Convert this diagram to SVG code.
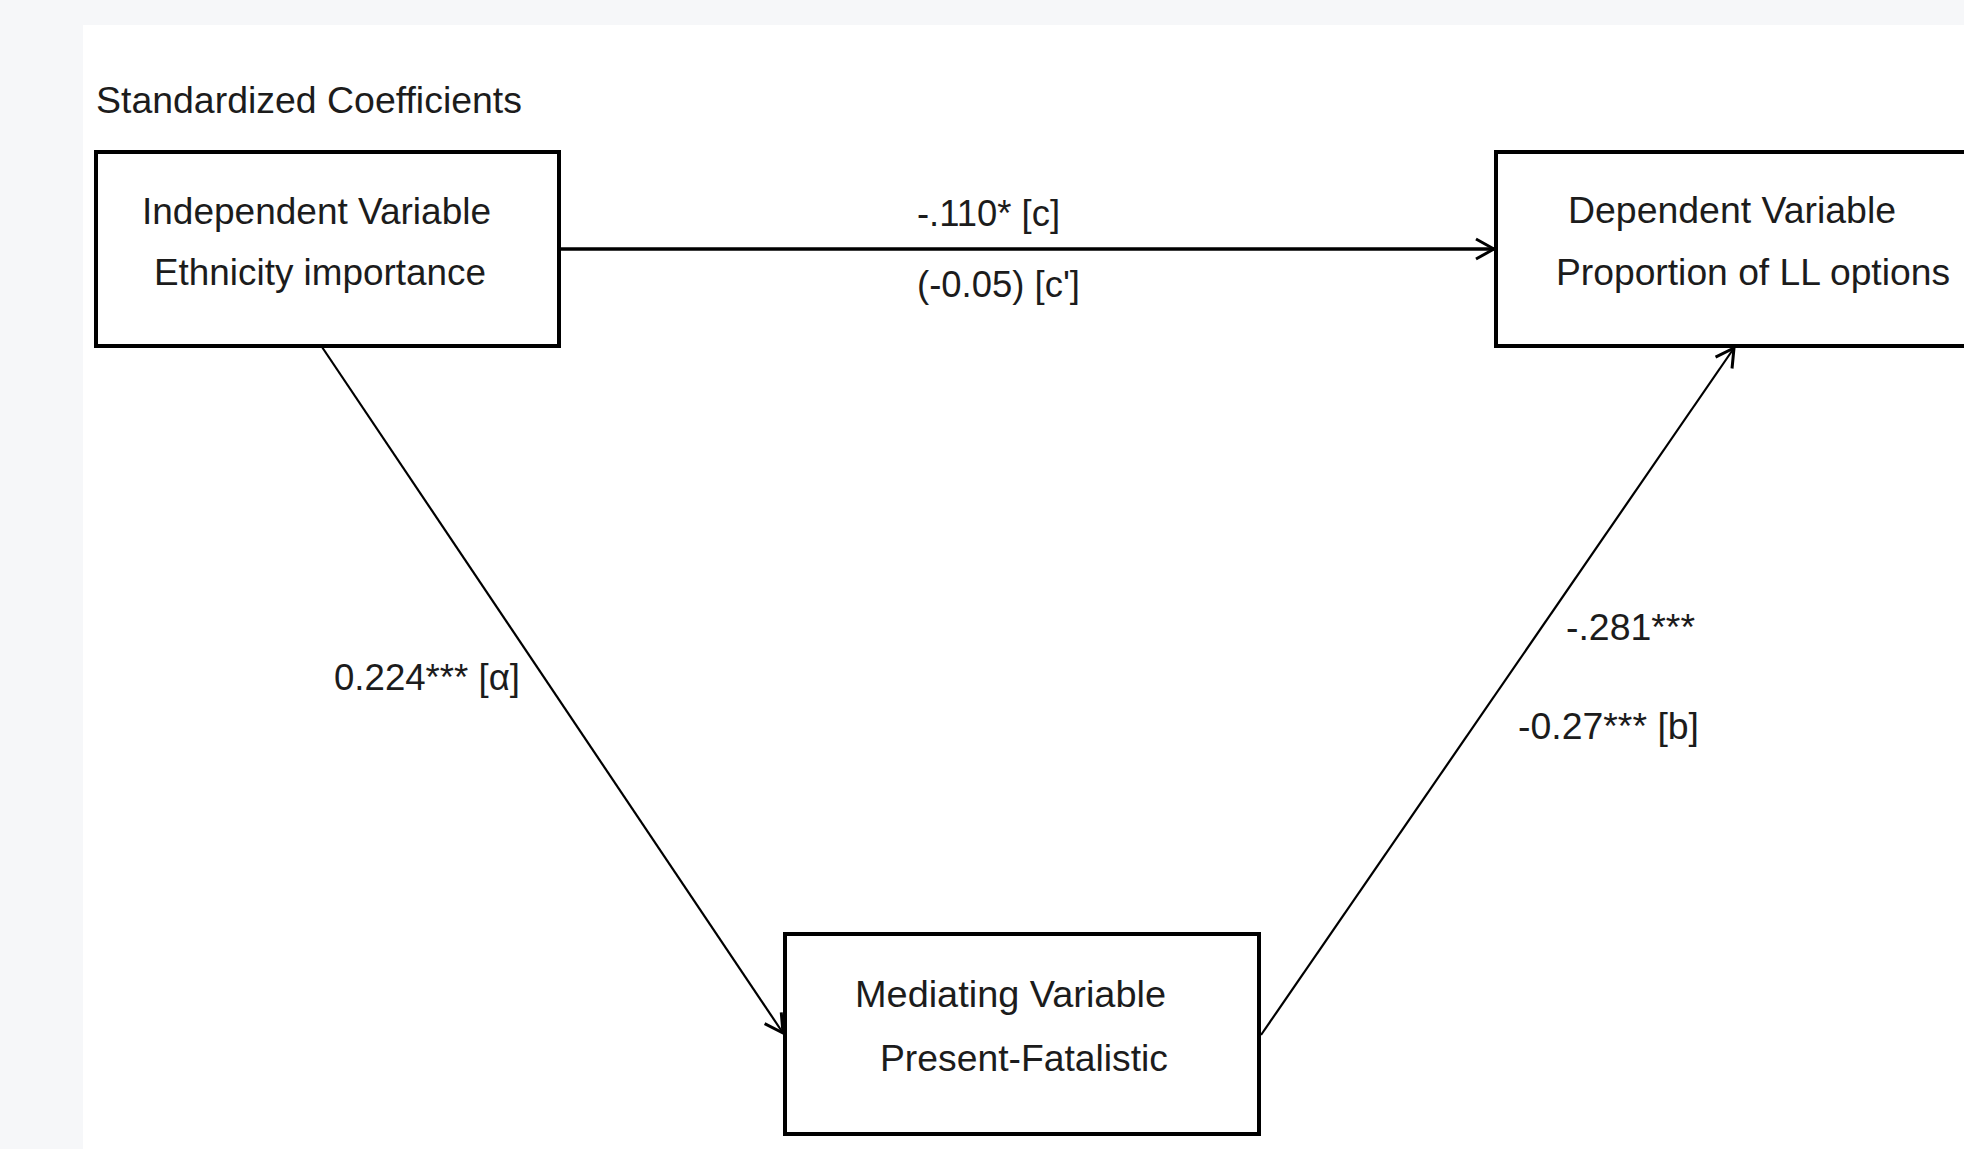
<svg xmlns="http://www.w3.org/2000/svg" width="1964" height="1149" viewBox="0 0 1964 1149">
<defs>
<style>
.bg{fill:#f6f7f9}
.panel{fill:#ffffff}
.box{fill:#ffffff;stroke:#000;stroke-width:4}
.t{font-family:"Liberation Sans",Arial,sans-serif;font-size:37px;fill:#1c1c1c}
.edge{stroke:#000;fill:none}
</style>
<marker id="arr" markerWidth="24" markerHeight="24" refX="22" refY="12" orient="auto" markerUnits="userSpaceOnUse">
<path d="M4,2 L22,12 L4,22" fill="none" stroke="#000" stroke-width="3"/>
</marker>
</defs>
<rect class="bg" x="0" y="0" width="1964" height="1149"/>
<rect class="panel" x="83" y="25" width="1881" height="1124"/>
<text class="t" x="96" y="113" textLength="426" lengthAdjust="spacingAndGlyphs">Standardized Coefficients</text>
<g id="connectors">
<line class="edge" x1="559" y1="249" x2="1494" y2="249" stroke-width="3.5" marker-end="url(#arr)"/>
<line class="edge" x1="322" y1="347" x2="783" y2="1033" stroke-width="2.2" marker-end="url(#arr)"/>
<line class="edge" x1="1261" y1="1035" x2="1734" y2="348" stroke-width="2.2" marker-end="url(#arr)"/>
<text class="t" x="917" y="226" textLength="143" lengthAdjust="spacingAndGlyphs">-.110* [c]</text>
<text class="t" x="917" y="297" textLength="163" lengthAdjust="spacingAndGlyphs">(-0.05) [c']</text>
<text class="t" x="334" y="690" textLength="186" lengthAdjust="spacingAndGlyphs">0.224*** [α]</text>
<text class="t" x="1566" y="640" textLength="129" lengthAdjust="spacingAndGlyphs">-.281***</text>
<text class="t" x="1518" y="739" textLength="181" lengthAdjust="spacingAndGlyphs">-0.27*** [b]</text>
</g>
<g id="node-iv">
<rect class="box" x="96" y="152" width="463" height="194"/>
<text class="t" x="142" y="224" textLength="349" lengthAdjust="spacingAndGlyphs">Independent Variable</text>
<text class="t" x="154" y="285" textLength="332" lengthAdjust="spacingAndGlyphs">Ethnicity importance</text>
</g>
<g id="node-dv">
<rect class="box" x="1496" y="152" width="500" height="194"/>
<text class="t" x="1568" y="223" textLength="328" lengthAdjust="spacingAndGlyphs">Dependent Variable</text>
<text class="t" x="1556" y="285" textLength="394" lengthAdjust="spacingAndGlyphs">Proportion of LL options</text>
</g>
<g id="node-mv">
<rect class="box" x="785" y="934" width="474" height="200"/>
<text class="t" x="855" y="1007" textLength="311" lengthAdjust="spacingAndGlyphs">Mediating Variable</text>
<text class="t" x="880" y="1071" textLength="288" lengthAdjust="spacingAndGlyphs">Present-Fatalistic</text>
</g>
</svg>
